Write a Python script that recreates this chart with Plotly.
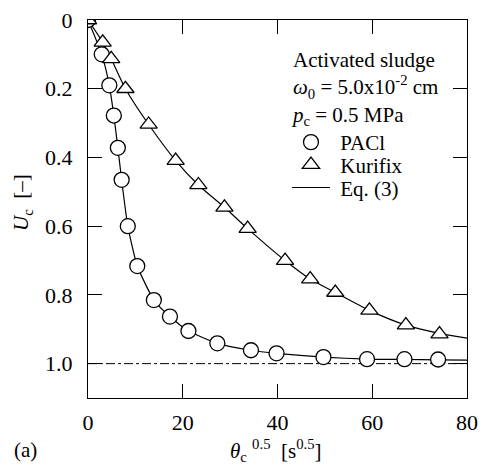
import plotly.graph_objects as go

# PACl data (circles)
pacl_x = [0, 2.9, 4.5, 5.45, 6.3, 7.1, 8.4, 10.4, 13.9, 17.3, 21.2, 27.3, 34.4, 39.8, 49.7, 58.9, 66.8, 73.9]
pacl_y = [0, 0.100, 0.190, 0.278, 0.372, 0.465, 0.600, 0.716, 0.815, 0.863, 0.905, 0.941, 0.961, 0.970, 0.981, 0.987, 0.987, 0.988]

# Kurifix data (triangles)
kuri_x = [0, 3.1, 4.9, 7.9, 12.8, 18.5, 23.3, 28.8, 33.7, 41.6, 46.9, 52.2, 59.4, 67.1, 74.2]
kuri_y = [0, 0.065, 0.113, 0.200, 0.304, 0.409, 0.480, 0.545, 0.607, 0.700, 0.754, 0.793, 0.845, 0.888, 0.914]

# Eq. (3) curves
eq_pacl_x = [0, 2.9, 4.5, 5.45, 6.3, 7.1, 8.4, 10.4, 13.9, 17.3, 21.2, 27.3, 34.4, 39.8, 49.7, 58.9, 66.8, 73.9, 80]
eq_pacl_y = [0, 0.100, 0.190, 0.278, 0.372, 0.465, 0.600, 0.716, 0.815, 0.863, 0.905, 0.941, 0.961, 0.970, 0.981, 0.987, 0.988, 0.989, 0.990]
eq_kuri_x = [0, 3.1, 4.9, 7.9, 12.8, 18.5, 23.3, 28.8, 33.7, 41.6, 46.9, 52.2, 59.4, 67.1, 74.2, 80]
eq_kuri_y = [0, 0.065, 0.113, 0.200, 0.304, 0.409, 0.480, 0.545, 0.607, 0.700, 0.754, 0.793, 0.845, 0.888, 0.912, 0.926]

# asymptote
asym_x = [0, 80]
asym_y = [1.0, 1.0]

x_ticks = [0, 20, 40, 60, 80]
x_ticklabels = ["0", "20", "40", "60", "80"]
y_ticks = [0, 0.2, 0.4, 0.6, 0.8, 1.0]
y_ticklabels = ["0", "0.2", "0.4", "0.6", "0.8", "1.0"]

FONT = "Liberation Serif, Times New Roman, serif"

fig = go.Figure()
fig.add_trace(go.Scatter(x=asym_x, y=asym_y, mode="lines",
                         line=dict(color="black", width=1, dash="dashdot"),
                         showlegend=False, hoverinfo="skip"))
fig.add_trace(go.Scatter(x=eq_pacl_x, y=eq_pacl_y, mode="lines",
                         line=dict(color="black", width=1.2, shape="spline", smoothing=0.5),
                         showlegend=False))
fig.add_trace(go.Scatter(x=eq_kuri_x, y=eq_kuri_y, mode="lines",
                         line=dict(color="black", width=1.2, shape="spline", smoothing=0.8),
                         showlegend=False))
fig.add_trace(go.Scatter(x=pacl_x, y=pacl_y, mode="markers", name="\u00a0PACl", legend="legend",
                         marker=dict(symbol="circle", size=15, color="white",
                                     line=dict(color="black", width=1.3))))
fig.add_trace(go.Scatter(x=kuri_x, y=kuri_y, mode="markers", name="\u00a0Kurifix", legend="legend2",
                         marker=dict(symbol="triangle-up", size=15, color="white",
                                     line=dict(color="black", width=1.3))))
fig.add_trace(go.Scatter(x=[None], y=[None], mode="lines", name="\u00a0Eq. (3)", legend="legend3",
                         line=dict(color="black", width=1.2)))

axis_common = dict(showline=True, linecolor="black", linewidth=1.4, mirror="ticks",
                   ticks="inside", ticklen=14, tickwidth=1.2, tickcolor="black",
                   showgrid=False, zeroline=False, automargin=False,
                   tickfont=dict(family=FONT, size=22, color="black"))

fig.update_xaxes(range=[0, 80], tickvals=x_ticks, ticktext=x_ticklabels,
                 ticklabelstandoff=4, **axis_common)
fig.update_yaxes(range=[1.1, 0], tickvals=y_ticks, ticktext=y_ticklabels,
                 ticklabelstandoff=10, **axis_common)

leg_common = dict(x=0.525, xanchor="left", yanchor="middle",
                  bgcolor="rgba(0,0,0,0)", borderwidth=0,
                  font=dict(family=FONT, size=21, color="black"), itemwidth=38)

fig.update_layout(
    width=480, height=466,
    margin=dict(l=88, r=13, t=20, b=68, autoexpand=False),
    paper_bgcolor="white", plot_bgcolor="white",
    font=dict(family=FONT, size=21, color="black"),
    showlegend=True,
    legend=dict(y=0.676, **leg_common),
    legend2=dict(y=0.6164, **leg_common),
    legend3=dict(y=0.556, **leg_common),
    annotations=[
        dict(text="Activated sludge<br><i>ω</i><sub>0</sub> = 5.0x10<sup>-2</sup> cm<br><i>p</i><sub>c</sub> = 0.5 MPa",
             xref="paper", yref="paper", x=0.531, y=0.82, xanchor="left", yanchor="middle",
             align="left", showarrow=False, font=dict(family=FONT, size=21)),
        dict(text="<i>θ</i><sub>c</sub> <sup>0.5</sup>  [s<sup>0.5</sup>]",
             xref="paper", yref="paper", x=0.496, y=-0.14, xanchor="center", yanchor="middle",
             showarrow=False, font=dict(family=FONT, size=21)),
        dict(text="<i>U</i><sub>c</sub>  [–]", textangle=-90,
             xref="paper", yref="paper", x=-0.174, y=0.516, xanchor="center", yanchor="middle",
             showarrow=False, font=dict(family=FONT, size=21)),
        dict(text="(a)", xref="paper", yref="paper", x=-0.166, y=-0.138,
             xanchor="center", yanchor="middle", showarrow=False, font=dict(family=FONT, size=21)),
    ],
)

fig.write_html("out.html", config={"displayModeBar": False},
               post_script="document.body.style.margin='0';document.body.style.padding='0';document.body.style.overflow='hidden';")
